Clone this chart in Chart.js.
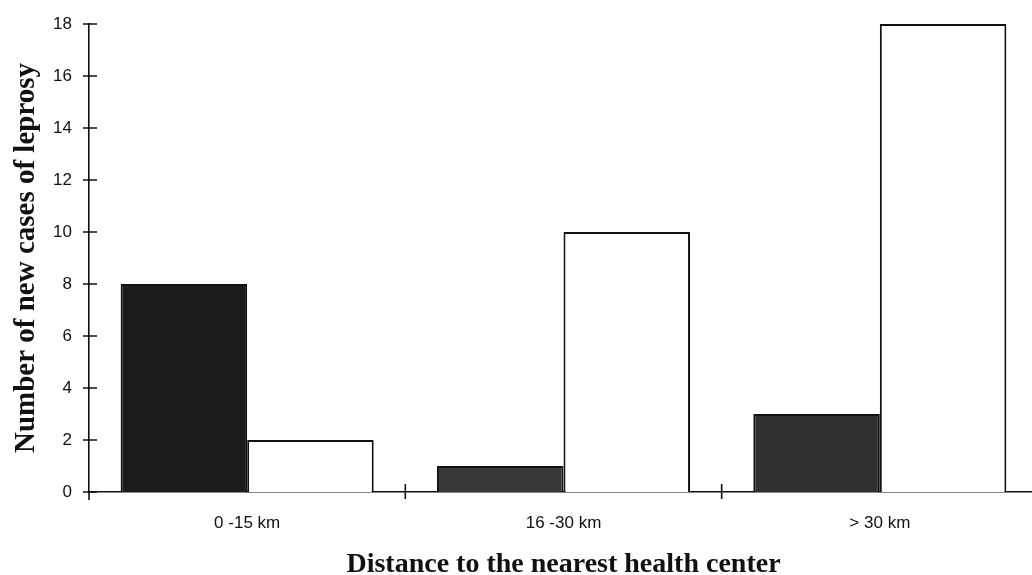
<!DOCTYPE html>
<html>
<head>
<meta charset="utf-8">
<title>New cases of leprosy by distance</title>
<script src="https://cdn.jsdelivr.net/npm/chart.js@4/dist/chart.umd.min.js"></script>
<style>
    html, body { margin: 0; padding: 0; background: #fff; overflow: hidden; }
    #wrap { position: relative; width: 1040px; height: 575px; }
</style>
</head>
<body>
<div id="wrap"><canvas id="chart"></canvas></div>
<script>
// data
const categories = ['0 -15 km', '16 -30 km', '> 30 km'];
const darkValues = [8, 1, 3];
const whiteValues = [2, 10, 18];
const yTicks = [0, 2, 4, 6, 8, 10, 12, 14, 16, 18];

const INK = '#111';

// short tick marks crossing the axes, like the printed figure
const crossTicks = {
    id: 'crossTicks',
    afterDraw(chart) {
        const ctx = chart.ctx;
        const area = chart.chartArea;
        const x = chart.scales.x;
        const y = chart.scales.y;
        ctx.save();
        ctx.strokeStyle = INK;
        ctx.lineWidth = 1.6;
        ctx.beginPath();
        // y axis runs a bit below the baseline
        ctx.moveTo(area.left, area.bottom);
        ctx.lineTo(area.left, area.bottom + 8);
        yTicks.forEach(v => {
            const py = y.getPixelForValue(v);
            ctx.moveTo(area.left - 6, py);
            ctx.lineTo(area.left + 8, py);
        });
        for (let i = 0; i < categories.length - 1; i++) {
            const px = (x.getPixelForValue(i) + x.getPixelForValue(i + 1)) / 2;
            ctx.moveTo(px, area.bottom - 8);
            ctx.lineTo(px, area.bottom + 7);
        }
        ctx.stroke();
        ctx.restore();
    }
};

new Chart(document.getElementById('chart'), {
    type: 'bar',
    data: {
        labels: categories,
        datasets: [{
            label: 'dark',
            data: darkValues,
            backgroundColor: ['#1c1c1c', '#383838', '#303030'],
            borderColor: INK,
            borderWidth: 2,
            categoryPercentage: 0.8,
            barPercentage: 1.0
        }, {
            label: 'white',
            data: whiteValues,
            backgroundColor: '#ffffff',
            borderColor: INK,
            borderWidth: 2,
            categoryPercentage: 0.8,
            barPercentage: 1.0
        }]
    },
    options: {
        responsive: true,
        maintainAspectRatio: false,
        animation: false,
        layout: { padding: { top: 24, right: 2, bottom: 0, left: 0 } },
        plugins: {
            legend: { display: false },
            tooltip: { enabled: false }
        },
        scales: {
            x: {
                grid: { display: false, drawTicks: false },
                border: { display: true, color: INK, width: 1.6 },
                ticks: {
                    color: INK,
                    padding: 21,
                    maxRotation: 0,
                    font: { family: '"Liberation Sans", Arial, sans-serif', size: 17 }
                },
                title: {
                    display: true,
                    text: 'Distance to the nearest health center',
                    color: INK,
                    padding: { top: 0, bottom: 0 },
                    font: { family: '"Liberation Serif", "Times New Roman", serif', size: 28, weight: 'bold', lineHeight: 0.75 }
                },
                afterFit(scale) {
                    scale.height = 83;
                    scale.paddingLeft = 0;
                    scale.paddingRight = 0;
                }
            },
            y: {
                min: 0,
                max: 18,
                grid: { display: false, drawTicks: false },
                border: { display: true, color: INK, width: 1.6 },
                afterBuildTicks(scale) { scale.ticks = yTicks.map(v => ({ value: v })); },
                ticks: {
                    color: INK,
                    padding: 17,
                    font: { family: '"Liberation Sans", Arial, sans-serif', size: 17 }
                },
                title: {
                    display: true,
                    text: 'Number of new cases of leprosy',
                    color: INK,
                    padding: { top: 9, bottom: 0 },
                    font: { family: '"Liberation Serif", "Times New Roman", serif', size: 29, weight: 'bold' }
                },
                afterFit(scale) {
                    scale.width = 89;
                    scale.paddingTop = 0;
                    scale.paddingBottom = 0;
                }
            }
        }
    },
    plugins: [crossTicks]
});
</script>
</body>
</html>
